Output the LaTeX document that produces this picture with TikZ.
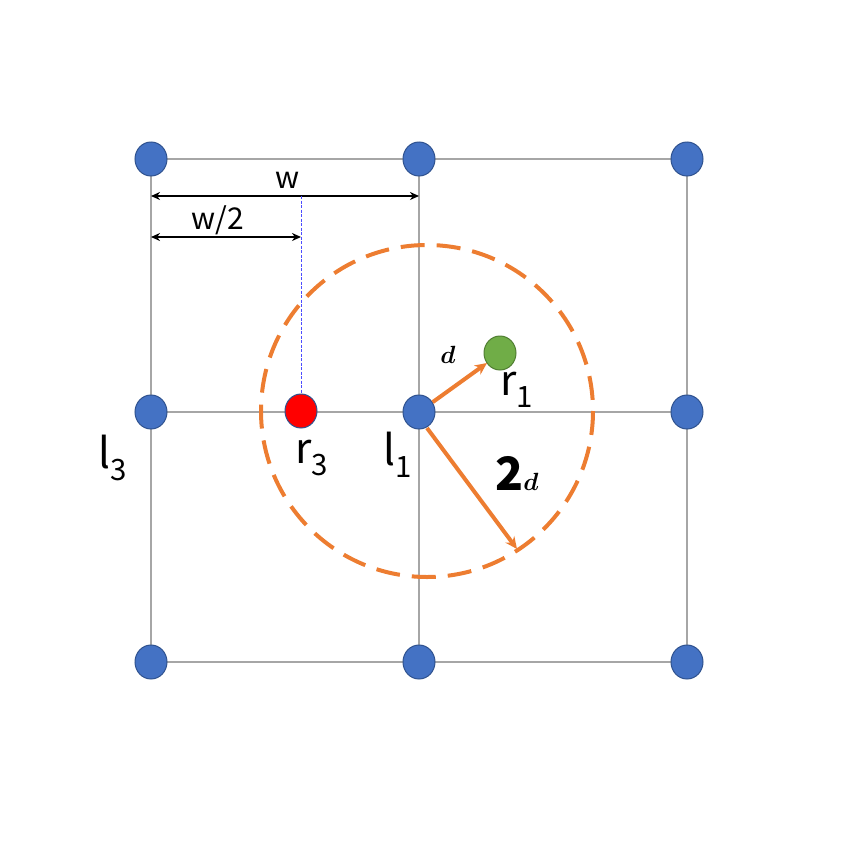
\documentclass[tikz,border=0pt]{standalone}
\usepackage{amsmath}
\usepackage{bm}
\usepackage{fontspec}
\setmainfont{Noto Sans CJK SC}
\usetikzlibrary{arrows.meta,shapes.geometric}
\definecolor{bl}{HTML}{4472C4}
\definecolor{bld}{HTML}{2F528F}
\definecolor{og}{HTML}{ED7D31}
\definecolor{gr}{HTML}{70AD47}
\definecolor{grd}{HTML}{507E32}
\begin{document}
\begin{tikzpicture}[x=1pt,y=-1pt,
  dot/.style={ellipse,draw=bld,fill=bl,line width=1pt,minimum width=32pt,minimum height=34pt,inner sep=0pt},
  grid/.style={draw=black!35,line width=1.5pt},
  dim/.style={{Stealth[length=9pt,width=8pt]}-{Stealth[length=9pt,width=8pt]},line width=2pt},
  oarr/.style={-{Stealth[length=12pt,width=11pt]},og,line width=4pt},
  lbl/.style={font=\fontsize{42}{48}\selectfont,inner sep=0pt},
  sm/.style={font=\fontsize{30}{34}\selectfont,inner sep=0pt}]
\useasboundingbox (0,0) rectangle (846,846);
\foreach \x in {151,419,687} \draw[grid] (\x,159) -- (\x,662);
\foreach \y in {159,412,662} \draw[grid] (151,\y) -- (687,\y);
\draw[og,line width=4pt,dash pattern=on 24pt off 12pt] (427,411) circle (166);
\foreach \x/\i in {151/a,419/b,687/c}{
 \node[dot] (\i1) at (\x,159) {};
 \node[dot] (\i2) at (\x,412) {};
 \node[dot] (\i3) at (\x,662) {};}
\node[dot,fill=red,draw=bld] (r3) at (301,411) {};
\node[dot,fill=gr,draw=grd] (r1) at (500,353) {};
\coordinate (wl) at (151,196); \coordinate (wr) at (419,196);
\coordinate (hl) at (151,237); \coordinate (hr) at (301,237);
\coordinate (vt) at (301,196);
\draw[dim] (wl) -- (wr);
\draw[dim] (hl) -- (hr);
\draw[blue!70,line width=0.6pt,dash pattern=on 3pt off 1.5pt] (vt) -- (r3.north);
\node[sm] (tw) at (288,180) {w};
\node[sm] (tw2) at (218,220) {w/2};
\coordinate (de) at (487,363);
\coordinate (d2s) at (427,428); \coordinate (d2e) at (517,549);
\draw[oarr] (b2) -- (de);
\draw[oarr] (d2s) -- (d2e);
\node[inner sep=0pt,font=\fontsize{46}{50}\selectfont] (ld) at (448,355) {$\bm{d}$};
\node[inner sep=0pt,font=\fontsize{46}{50}\selectfont] (l2d) at (517,473) {$\mathbf{2}\bm{d}$};
\node[lbl] (l3) at (113,458) {l\textsubscript{3}};
\node[lbl] (tr3) at (312,458) {r\textsubscript{3}};
\node[lbl] (tl1) at (398,455) {l\textsubscript{1}};
\node[lbl] (tr1) at (517,390) {r\textsubscript{1}};
\end{tikzpicture}
\end{document}
